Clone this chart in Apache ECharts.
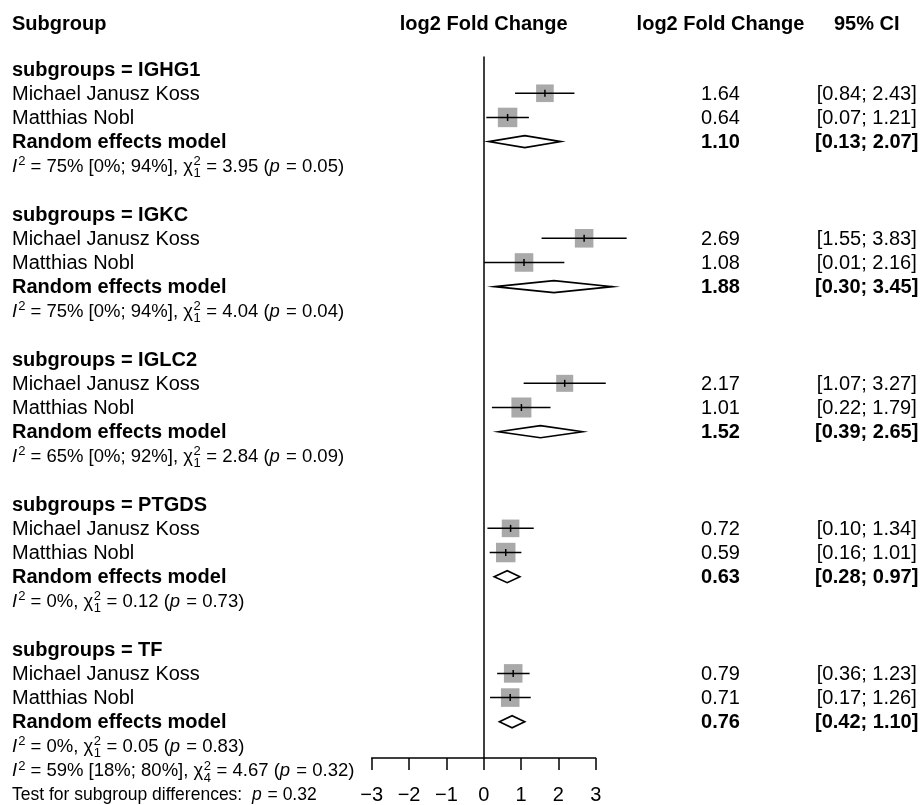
<!DOCTYPE html>
<html><head><meta charset="utf-8">
<script src="https://cdn.jsdelivr.net/npm/echarts@6/dist/echarts.min.js"></script>
<style>html,body{margin:0;padding:0;background:#fff}#c{width:921px;height:805px}</style>
</head><body><div id="c"></div>
<script>
// ---------- data ----------
const subgroups = ['IGHG1', 'IGKC', 'IGLC2', 'PTGDS', 'TF'];
const studyNames = ['Michael Janusz Koss', 'Matthias Nobl'];
const estKoss  = [1.64, 2.69, 2.17, 0.72, 0.79];
const lowKoss  = [0.84, 1.55, 1.07, 0.10, 0.36];
const highKoss = [2.43, 3.83, 3.27, 1.34, 1.23];
const estNobl  = [0.64, 1.08, 1.01, 0.59, 0.71];
const lowNobl  = [0.07, 0.01, 0.22, 0.16, 0.17];
const highNobl = [1.21, 2.16, 1.79, 1.01, 1.26];
const estRE    = [1.10, 1.88, 1.52, 0.63, 0.76];
const lowRE    = [0.13, 0.30, 0.39, 0.28, 0.42];
const highRE   = [2.07, 3.45, 2.65, 0.97, 1.10];
const weightKoss = [45, 50, 42, 45, 50];
const weightNobl = [55, 50, 58, 55, 50];
const hetI2   = ['75%', '75%', '65%', '0%', '0%'];
const hetI2CI = ['[0%; 94%]', '[0%; 94%]', '[0%; 92%]', '', ''];
const hetDf   = ['1', '1', '1', '1', '1'];
const hetChi  = ['3.95', '4.04', '2.84', '0.12', '0.05'];
const hetP    = ['0.05', '0.04', '0.09', '0.73', '0.83'];
const overallHet = { i2: '59%', ci: '[18%; 80%]', df: '4', chi: '4.67', p: '0.32' };
const testSubgroupP = '0.32';
const xTicks = [-3, -2, -1, 0, 1, 2, 3];
const headers = { left: 'Subgroup', plot: 'log2 Fold Change', est: 'log2 Fold Change', ci: '95% CI' };

// ---------- helpers ----------
const FAM = '"Liberation Sans", Arial, sans-serif';
const F = 20;      // main font
const FS = 18.5;   // heterogeneity lines
const FT = 17.5;   // test for subgroup differences
const FSUP = 13;
const TY = 1;      // small vertical text offset
const ctx = document.createElement('canvas').getContext('2d');
function tw(t, size, weight, style) {
  ctx.font = (style || 'normal') + ' ' + (weight || 'normal') + ' ' + size + 'px ' + FAM;
  return ctx.measureText(t).width;
}
const fmt = v => v.toFixed(2);
const ciTxt = (l, h) => '[' + fmt(l) + '; ' + fmt(h) + ']';

const X_LEFT = 12, X_EST = 720.5, X_CI = 866.7;
const maxW = Math.max(...weightKoss, ...weightNobl);

const forestData = [];
const textItems = [];
const HROW = -1.88;
textItems.push({ row: HROW, x: X_LEFT, text: headers.left, bold: true, align: 'left' });
textItems.push({ row: HROW, xAtZero: true, text: headers.plot, bold: true, align: 'center' });
textItems.push({ row: HROW, x: X_EST, text: headers.est, bold: true, align: 'center' });
textItems.push({ row: HROW, x: X_CI, text: headers.ci, bold: true, align: 'center' });

function statTokens(i2, ci, df, chi, p) {
  return [
    { t: 'I', it: true },
    { t: '2', sup: true },
    { t: ' = ' + i2 + (ci ? ' ' + ci : '') + ', ' },
    { t: 'χ' },
    { stack: [df, '2'] },
    { t: ' = ' + chi + ' (' },
    { t: 'p', it: true },
    { t: ' = ' + p + ')' }
  ];
}

subgroups.forEach((g, k) => {
  const b = k * 6;
  textItems.push({ row: b, x: X_LEFT, text: 'subgroups = ' + g, bold: true, align: 'left' });
  const studies = [
    [estKoss[k], lowKoss[k], highKoss[k], weightKoss[k]],
    [estNobl[k], lowNobl[k], highNobl[k], weightNobl[k]]
  ];
  studies.forEach((s, j) => {
    const r = b + 1 + j;
    textItems.push({ row: r, x: X_LEFT, text: studyNames[j], align: 'left' });
    textItems.push({ row: r, x: X_EST, text: fmt(s[0]), align: 'center' });
    textItems.push({ row: r, x: X_CI, text: ciTxt(s[1], s[2]), align: 'center' });
    forestData.push([r, s[0], s[1], s[2], 0, s[3]]);
  });
  const rr = b + 3;
  textItems.push({ row: rr, x: X_LEFT, text: 'Random effects model', bold: true, align: 'left' });
  textItems.push({ row: rr, x: X_EST, text: fmt(estRE[k]), bold: true, align: 'center' });
  textItems.push({ row: rr, x: X_CI, text: ciTxt(lowRE[k], highRE[k]), bold: true, align: 'center' });
  forestData.push([rr, estRE[k], lowRE[k], highRE[k], 1, 0]);
  textItems.push({ row: b + 4, x: X_LEFT, size: FS, tokens: statTokens(hetI2[k], hetI2CI[k], hetDf[k], hetChi[k], hetP[k]) });
});
textItems.push({ row: 29, x: X_LEFT, size: FS, tokens: statTokens(overallHet.i2, overallHet.ci, overallHet.df, overallHet.chi, overallHet.p) });
textItems.push({ row: 30, x: X_LEFT, size: FT, tokens: [
  { t: 'Test for subgroup differences:  ' }, { t: 'p', it: true }, { t: ' = ' + testSubgroupP }
] });

function renderForest(params, api) {
  const row = api.value(0), est = api.value(1), lo = api.value(2), hi = api.value(3);
  const kind = api.value(4), w = api.value(5);
  const pE = api.coord([est, row]), pL = api.coord([lo, row]), pH = api.coord([hi, row]);
  const y = pE[1];
  if (kind === 1) {
    return { type: 'polygon', silent: true,
      shape: { points: [[pL[0], y], [pE[0], y - 6], [pH[0], y], [pE[0], y + 6]] },
      style: { fill: '#ffffff', stroke: '#000000', lineWidth: 1.6 } };
  }
  const s = 20 * Math.sqrt(w / maxW);
  return { type: 'group', silent: true, children: [
    { type: 'rect', shape: { x: pE[0] - s / 2, y: y - s / 2, width: s, height: s }, style: { fill: '#a9a9a9' } },
    { type: 'line', shape: { x1: pL[0], y1: y, x2: pH[0], y2: y }, style: { stroke: '#000000', lineWidth: 1.5 } },
    { type: 'line', shape: { x1: pE[0], y1: y - 3.5, x2: pE[0], y2: y + 3.5 }, style: { stroke: '#000000', lineWidth: 1.5 } }
  ] };
}

function renderText(params, api) {
  const it = textItems[params.dataIndex];
  const y = api.coord([0, it.row])[1] + TY;
  if (!it.tokens) {
    const x = it.xAtZero ? api.coord([0, it.row])[0] : it.x;
    return { type: 'text', silent: true, style: {
      x: x, y: y, text: it.text, fill: '#000000', fontFamily: FAM, fontSize: F,
      fontWeight: it.bold ? 'bold' : 'normal', align: it.align, verticalAlign: 'middle' } };
  }
  const children = [];
  const base = it.size;
  let x = it.x;
  it.tokens.forEach(tk => {
    if (tk.stack) {
      const wSub = tw(tk.stack[0], FSUP), wSup = tw(tk.stack[1], FSUP);
      children.push({ type: 'text', style: { x: x + 0.5, y: y + 7, text: tk.stack[0], fill: '#000', fontFamily: FAM, fontSize: FSUP, align: 'left', verticalAlign: 'middle' } });
      children.push({ type: 'text', style: { x: x + 0.5, y: y - 5, text: tk.stack[1], fill: '#000', fontFamily: FAM, fontSize: FSUP, align: 'left', verticalAlign: 'middle' } });
      x += Math.max(wSub, wSup) + 1;
      return;
    }
    const size = tk.sup ? FSUP : base;
    const style = tk.it ? 'italic' : 'normal';
    const yy = tk.sup ? y - 5 : y;
    children.push({ type: 'text', style: { x: x, y: yy, text: tk.t, fill: '#000', fontFamily: FAM, fontSize: size, fontStyle: style, align: 'left', verticalAlign: 'middle' } });
    x += tw(tk.t, size, 'normal', style) + (tk.it ? 1 : 0);
  });
  return { type: 'group', silent: true, children: children };
}

const chart = echarts.init(document.getElementById('c'), null, { renderer: 'canvas' });
chart.setOption({
  animation: false,
  backgroundColor: '#ffffff',
  grid: { left: 371.7, right: 325.3, top: 57, bottom: 46.2, containLabel: false },
  xAxis: {
    type: 'value', min: xTicks[0], max: xTicks[xTicks.length - 1], interval: 1,
    axisLine: { show: true, onZero: false, lineStyle: { color: '#000', width: 1.5 } },
    axisTick: { show: true, length: 12, lineStyle: { color: '#000', width: 1.5 } },
    axisLabel: { show: true, margin: 27, color: '#000', fontFamily: FAM, fontSize: F,
      formatter: v => String(v).replace('-', '\u2212') },
    splitLine: { show: false }
  },
  yAxis: {
    type: 'value', min: -0.5, max: 28.5, inverse: true,
    axisLine: { show: true, onZero: true, lineStyle: { color: '#000', width: 1.5 } },
    axisTick: { show: false }, axisLabel: { show: false }, splitLine: { show: false }
  },
  series: [
    { type: 'custom', renderItem: renderForest, data: forestData, clip: false, silent: true, z: 3 },
    { type: 'custom', renderItem: renderText, data: textItems.map((t, i) => [i, t.row]), clip: false, silent: true, z: 4,
      encode: { x: -1, y: 1 } }
  ]
});
</script>
</body></html>
